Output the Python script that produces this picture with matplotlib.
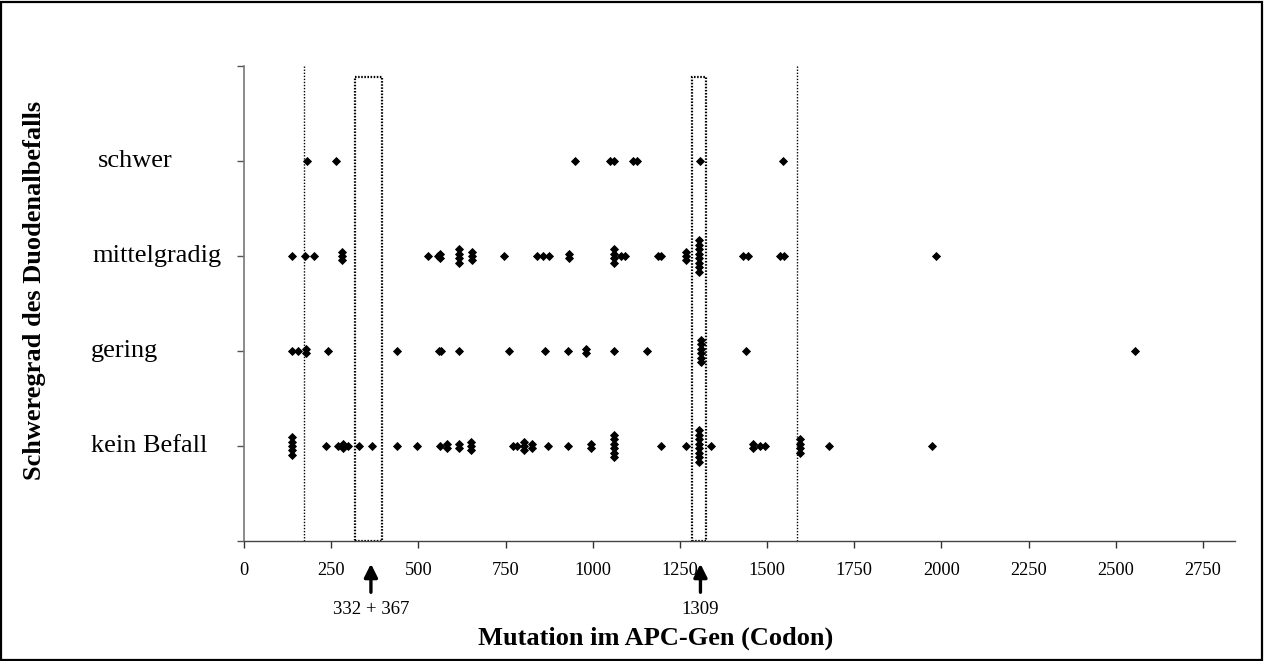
import matplotlib
matplotlib.use("Agg")
import matplotlib.pyplot as plt
from matplotlib.transforms import blended_transform_factory
from matplotlib.patches import Rectangle
from collections import Counter

# ---------------- data ----------------
categories = ["kein Befall", "gering", "mittelgradig", "schwer"]

kein_befall = [138, 138, 138, 138, 138, 234, 271, 283, 283, 299, 331, 366, 438, 496,
               562, 581, 581, 617, 617, 651, 651, 651, 771, 783, 803, 803, 803, 825, 825,
               873, 930, 994, 994, 1061, 1061, 1061, 1061, 1061, 1061, 1195, 1269,
               1305, 1305, 1305, 1305, 1305, 1305, 1305, 1305, 1338,
               1460, 1460, 1480, 1494, 1594, 1594, 1594, 1594, 1678, 1972]
gering = [139, 156, 177, 177, 242, 438, 560, 565, 617, 760, 864, 930, 980, 980,
          1062, 1155, 1310, 1310, 1310, 1310, 1310, 1310, 1440, 2555]
mittelgradig = [139, 175, 201, 282, 282, 282, 529, 556, 562, 562, 617, 617, 617, 617,
                653, 653, 653, 746, 839, 857, 874, 932, 932, 1061, 1061, 1061, 1061,
                1080, 1093, 1187, 1195, 1269, 1269, 1269,
                1306, 1306, 1306, 1306, 1306, 1306, 1306, 1306,
                1432, 1444, 1537, 1548, 1984]
schwer = [180, 264, 949, 1050, 1062, 1115, 1126, 1308, 1546]

x_ticks = list(range(0, 2751, 250))
hotspot_lines = [172, 1586]
hotspot_boxes = [(318, 395), (1285, 1325)]
arrow_marks = [(364, "332 + 367"), (1309, "1309")]

x_label = "Mutation im APC-Gen (Codon)"
y_label = "Schweregrad des Duodenalbefalls"

# ---------------- figure ----------------
W, H = 1265, 661
fig = plt.figure(figsize=(W / 100, H / 100), dpi=100)
ax = fig.add_axes([244 / W, 1 - 541 / H, (1235 - 244) / W, (541 - 66) / H])

serif = ["Liberation Serif", "DejaVu Serif"]


def stacked(vals, level, step=0.047):
    cnt = Counter(vals)
    seen = {}
    xs, ys = [], []
    for v in vals:
        n = cnt[v]
        k = seen.get(v, 0)
        seen[v] = k + 1
        xs.append(v)
        ys.append(level + ((n - 1) / 2 - k) * step)
    return xs, ys


for lvl, vals in enumerate([kein_befall, gering, mittelgradig, schwer], start=1):
    xs, ys = stacked(vals, lvl)
    ax.plot(xs, ys, linestyle="none", marker="D", markersize=3.8,
            markerfacecolor="black", markeredgecolor="black", markeredgewidth=0.6,
            zorder=3)

for x in hotspot_lines:
    ax.plot([x, x], [0, 5], color="black", lw=1.0, linestyle=(0, (1, 1.2)), zorder=2)

for x0, x1 in hotspot_boxes:
    ax.add_patch(Rectangle((x0, 0), x1 - x0, 4.887, fill=False, edgecolor="black",
                           lw=1.6, linestyle=(0, (0.7, 0.7)), zorder=2))

ax.set_xlim(0, 2842)
ax.set_ylim(0, 5)
ax.set_xticks(x_ticks)
ax.set_xticklabels([str(t) for t in x_ticks], fontfamily=serif, fontsize=13.2)
ax.set_yticks(range(6))
ax.set_yticklabels([])
ax.tick_params(axis="x", direction="out", length=5, width=1, color="#333333", pad=10)
ax.tick_params(axis="y", direction="out", length=5, width=1, color="#555555")

for s in ["top", "right"]:
    ax.spines[s].set_visible(False)
ax.spines["left"].set_color("#777777")
ax.spines["left"].set_linewidth(1.2)
ax.spines["bottom"].set_color("#444444")
ax.spines["bottom"].set_linewidth(1.0)

# category labels
tr = blended_transform_factory(fig.transFigure, ax.transData)
label_x = {"kein Befall": 91, "gering": 91, "mittelgradig": 92, "schwer": 98}
for lvl, name in enumerate(categories, start=1):
    fig.text(label_x[name] / W, lvl, name, transform=tr, ha="left", va="center",
             fontfamily=serif, fontsize=19)

# arrows below axis
tra = blended_transform_factory(ax.transData, ax.transAxes)
for x, txt in arrow_marks:
    ax.annotate("", xy=(x, -0.048), xytext=(x, -0.108), xycoords=tra, textcoords=tra,
                arrowprops=dict(arrowstyle="-|>,head_width=0.4,head_length=0.8",
                                color="black", lw=2.4, shrinkA=0, shrinkB=0),
                annotation_clip=False)
    ax.text(x, -0.145, txt, transform=tra, ha="center", va="center",
            fontfamily=serif, fontsize=13.5)

fig.text(656 / W, 1 - 638 / H, x_label, ha="center", va="center",
         fontfamily=serif, fontsize=19, fontweight="bold")
fig.text(35 / W, 1 - 290 / H, y_label, ha="center", va="center", rotation=90,
         fontfamily=serif, fontsize=19, fontweight="bold")

fig.patches.append(Rectangle((0.001, 0.0015), 0.997, 0.996, transform=fig.transFigure,
                             fill=False, edgecolor="black", lw=1.6))

fig.savefig("out.png", dpi=100)
